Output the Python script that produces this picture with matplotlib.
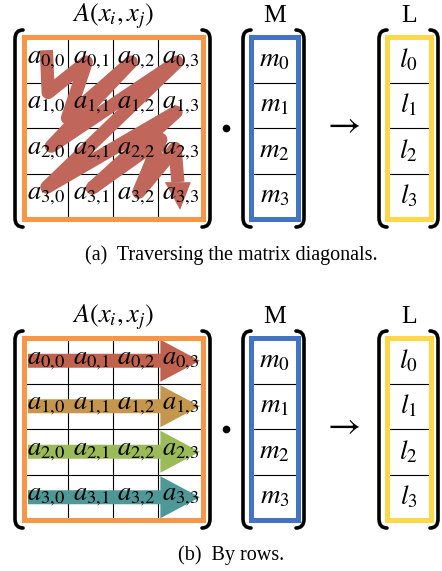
import matplotlib
matplotlib.use('Agg')
import matplotlib.pyplot as plt
from matplotlib.patches import Rectangle, Polygon, PathPatch
from matplotlib.path import Path

# ---- diagram content ----
matrixTitle = r'$A(x_i, x_j)$'
vectorTitles = ['M', 'L']
vectorEntries = [[r'$m_%d$' % i for i in range(4)], [r'$l_%d$' % i for i in range(4)]]
cellLabels = [[r'$a_{%d{,}%d}$' % (r, c) for c in range(4)] for r in range(4)]
captions = ['(a)  Traversing the matrix diagonals.', '(b)  By rows.']

# zigzag traversal, in grid units (column, row) of the 4x4 matrix
zigzagCols = [0.51, 0.55, 1.40, 0.98, 2.40, 0.62, 3.42, 0.52, 3.40, 1.53, 3.06, 2.57, 3.38, 3.44]
zigzagRows = [0.29, 1.22, 0.55, 1.78, 0.55, 2.40, 0.55, 3.30, 1.65, 3.32, 2.25, 3.41, 2.45, 3.19]
zigzagTip = (3.49, 3.80)

rowArrowColors = ['#c0624e', '#c4964e', '#9bbb59', '#4f9898']
zigzagColor = '#c0665a'
orange = '#f79646'
blue = '#4472c4'
yellow = '#ffd84a'

plt.rcParams['mathtext.fontset'] = 'stix'
plt.rcParams['font.family'] = ['Liberation Serif', 'DejaVu Serif']

W, H = 442, 571
fig = plt.figure(figsize=(W / 100, H / 100), dpi=100)
ax = fig.add_axes([0, 0, 1, 1])
ax.set_xlim(0, W)
ax.set_ylim(H, 0)
ax.axis('off')

# matrix geometry (pixels)
left, right, top, bottom = 23.5, 203, 37, 219
cellW = (right - left) / 4
cellH = (bottom - top) / 4


def bracket(x, y0, y1, side):
    hook = 8 * side
    verts = [(x + hook, y0), (x, y0), (x, y0 + 9), (x, y1 - 9), (x, y1), (x + hook, y1)]
    codes = [Path.MOVETO, Path.CURVE3, Path.CURVE3, Path.LINETO, Path.CURVE3, Path.CURVE3]
    ax.add_patch(PathPatch(Path(verts, codes), fill=False, lw=2.6, color='black', capstyle='round'))


def drawPanel(dy):
    # A matrix
    ax.text((left + right) / 2, 16 + dy, matrixTitle, ha='center', va='center', fontsize=19)
    for k in range(1, 4):
        ax.plot([left + k * cellW] * 2, [top + dy, bottom + dy], color='black', lw=0.8, zorder=1)
        ax.plot([left, right], [top + k * cellH + dy] * 2, color='black', lw=0.8, zorder=1)
    ax.add_patch(Rectangle((left, top + dy), right - left, bottom - top, fill=False,
                           ec=orange, lw=3.6, zorder=5))
    for r in range(4):
        for c in range(4):
            ax.text(left + (c + 0.5) * cellW, top + (r + 0.5) * cellH + dy, cellLabels[r][c],
                    ha='center', va='center', fontsize=19, zorder=4)
    bracket(15, 30 + dy, 227 + dy, 1)
    bracket(210, 30 + dy, 227 + dy, -1)

    # dot and arrow
    ax.plot(226, 128 + dy, 'o', color='black', ms=4.5)
    ax.text(341, 125 + dy, r'$\rightarrow$', ha='center', va='center', fontsize=26)

    # M and L vectors
    for (x0, x1, bl, br, col, title, entries) in [
            (251, 298, 243, 304, blue, vectorTitles[0], vectorEntries[0]),
            (386.5, 431, 379, 438, yellow, vectorTitles[1], vectorEntries[1])]:
        ax.text((x0 + x1) / 2, 16 + dy, title, ha='center', va='center', fontsize=18.5)
        for k in range(1, 4):
            ax.plot([x0, x1], [top + k * cellH + dy] * 2, color='black', lw=0.8, zorder=1)
        ax.add_patch(Rectangle((x0, top + dy), x1 - x0, bottom - top, fill=False,
                               ec=col, lw=3.6, zorder=5))
        for r in range(4):
            ax.text((x0 + x1) / 2, top + (r + 0.5) * cellH + dy, entries[r],
                    ha='center', va='center', fontsize=19.5)
        bracket(bl, 30 + dy, 227 + dy, 1)
        bracket(br, 30 + dy, 227 + dy, -1)


drawPanel(0)
drawPanel(301)

# panel (a): diagonal zigzag
xs = [left + c * cellW for c in zigzagCols]
ys = [top + r * cellH for r in zigzagRows]
ax.plot(xs, ys, color=zigzagColor, lw=9.5, solid_capstyle='butt', solid_joinstyle='round', zorder=2)
tipX, tipY = left + zigzagTip[0] * cellW, top + zigzagTip[1] * cellH
ax.add_patch(Polygon([(xs[-1] - 13, ys[-1]), (xs[-1] + 13, ys[-1]), (tipX, tipY)],
                     color=zigzagColor, lw=0, zorder=2))

# panel (b): one arrow per row
dy = 301
for r in range(4):
    yc = top + (r + 0.5) * cellH + dy
    shaftEnd = left + 3.05 * cellW
    tipEnd = left + 3.93 * cellW
    ax.add_patch(Polygon([(28, yc - 7), (shaftEnd, yc - 7), (shaftEnd, yc - 21), (tipEnd, yc),
                          (shaftEnd, yc + 21), (shaftEnd, yc + 7), (28, yc + 7)],
                         color=rowArrowColors[r], lw=0, zorder=2))

ax.text(231, 255, captions[0], ha='center', va='center', fontsize=14.5)
ax.text(231, 555, captions[1], ha='center', va='center', fontsize=14.5)

fig.savefig('out.png', dpi=100)
